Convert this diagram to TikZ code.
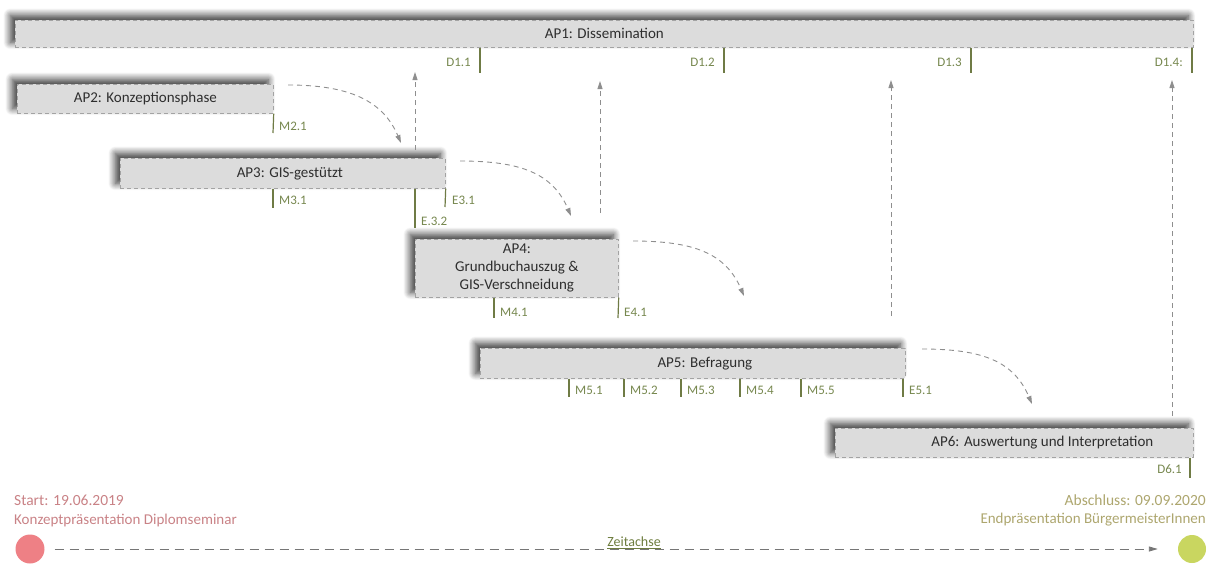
\documentclass[tikz,border=0pt]{standalone}
\usepackage{fontspec}
\setmainfont{Carlito}
\usetikzlibrary{shadows.blur,arrows.meta,calc}
\definecolor{boxfill}{HTML}{DCDCDC}
\definecolor{boxline}{HTML}{A3A3A3}
\definecolor{boxtext}{HTML}{2E2E2E}
\definecolor{tickcol}{HTML}{6F7B45}
\definecolor{ticktext}{HTML}{76874E}
\definecolor{flowcol}{HTML}{8E8E8E}
\definecolor{startcol}{HTML}{C98286}
\definecolor{endcol}{HTML}{ADA66E}
\definecolor{startdot}{HTML}{EE8085}
\definecolor{enddot}{HTML}{C9D660}
\definecolor{axiscol}{HTML}{767676}
\definecolor{axistext}{HTML}{6E7D3F}
\begin{document}
\begin{tikzpicture}[x=1pt,y=-1pt,
  apbox/.style={rectangle, anchor=north west, inner sep=0pt, draw=boxline,
    dash pattern=on 4pt off 3pt, line width=0.7pt, fill=boxfill, text=boxtext,
    align=center, font=\fontsize{15}{18}\selectfont,
    blur shadow={shadow xshift=-5pt, shadow yshift=5pt,
      shadow blur radius=7pt, shadow blur steps=12, shadow opacity=80}},
  msline/.style={draw=tickcol, line width=1.2pt},
  mslabel/.style={text=ticktext, font=\fontsize{13}{15}\selectfont, inner sep=0pt},
  flow/.style={draw=flowcol, line width=0.9pt, dash pattern=on 5pt off 4pt,
    -{Triangle[length=8pt,width=5pt]}},
  datetext/.style={inner sep=0pt, font=\fontsize{15.5}{18}\selectfont},
  subtext/.style={inner sep=0pt, font=\fontsize{15}{17}\selectfont}
]
\useasboundingbox (0,0) rectangle (1214,570);

% work packages
\node[apbox, minimum width=1178pt, minimum height=27pt] (ap1) at (15,20) {AP1: Dissemination};
\node[apbox, minimum width=256pt, minimum height=29pt] (ap2) at (17,84) {AP2: Konzeptionsphase};
\node[apbox, minimum width=325pt, minimum height=30pt] (ap3) at (120,158) {\hspace*{14pt}AP3: GIS-gestützt};
\node[apbox, minimum width=203pt, minimum height=58pt] (ap4) at (415,239) {AP4:\\Grundbuchauszug \&\\GIS-Verschneidung};
\node[apbox, minimum width=425pt, minimum height=30pt] (ap5) at (480,348) {\hspace*{24pt}AP5: Befragung};
\node[apbox, minimum width=358pt, minimum height=29pt] (ap6) at (835,428) {\hspace*{56pt}AP6: Auswertung und Interpretation};

% deliverables of AP1
\foreach \x/\t/\n in {480/D1.1/d11, 724/D1.2/d12, 971/D1.3/d13, 1192/D1.4:/d14}{
  \coordinate (\n) at (\x,73);
  \draw[msline] (ap1.south -| \n) -- (\n);
  \node[mslabel, anchor=east] (\n l) at (\x-9,62) {\t};
}

% milestones AP2, AP3, AP4
\coordinate (m21) at (273,133);
\draw[msline] (ap2.south east) -- (m21);
\node[mslabel, anchor=west] (m21l) at (279,126) {M2.1};

\coordinate (m31) at (273,208);
\draw[msline] (ap3.south -| m31) -- (m31);
\node[mslabel, anchor=west] (m31l) at (279,200) {M3.1};

\coordinate (e31) at (445,207);
\draw[msline] (ap3.south east) -- (e31);
\node[mslabel, anchor=west] (e31l) at (452,200) {E3.1};

\coordinate (e32) at (415,228);
\draw[msline] (ap3.south -| e32) -- (e32);
\node[mslabel, anchor=west] (e32l) at (421,221) {E.3.2};

\coordinate (m41) at (494,318);
\draw[msline] (ap4.south -| m41) -- (m41);
\node[mslabel, anchor=west] (m41l) at (500,312) {M4.1};

\coordinate (e41) at (618,318);
\draw[msline] (ap4.south east) -- (e41);
\node[mslabel, anchor=west] (e41l) at (624,312) {E4.1};

% milestones AP5
\foreach \x/\t/\n in {569/M5.1/m51, 624/M5.2/m52, 681/M5.3/m53, 740/M5.4/m54, 801/M5.5/m55, 903/E5.1/e51}{
  \coordinate (\n) at (\x,397);
  \draw[msline] (ap5.south -| \n) -- (\n);
  \node[mslabel, anchor=west] (\n l) at (\x+6,390) {\t};
}

% deliverable AP6
\coordinate (d61) at (1190,478);
\draw[msline] (ap6.south -| d61) -- (d61);
\node[mslabel, anchor=east] (d61l) at (1182,469) {D6.1};

% hand-over arrows between work packages
\coordinate (c1s) at (288,85);  \coordinate (c1e) at (401,143);
\coordinate (c2s) at (460,161); \coordinate (c2e) at (571,216);
\coordinate (c3s) at (633,241); \coordinate (c3e) at (744,296);
\coordinate (c4s) at (922,349); \coordinate (c4e) at (1032,404);
\foreach \n in {1,2,3,4}{
  \draw[flow] (c\n s) .. controls +(62,0) and +(-18,-42) .. (c\n e);
}

% feedback arrows into dissemination
\coordinate (u1s) at (415,150);  \coordinate (u1e) at (415,72);
\coordinate (u2s) at (600,213);  \coordinate (u2e) at (600,81);
\coordinate (u3s) at (891,316);  \coordinate (u3e) at (891,80);
\coordinate (u4s) at (1172,416); \coordinate (u4e) at (1172,80);
\foreach \n in {1,2,3,4}{
  \draw[flow] (u\n s) -- (u\n e);
}

% time axis
\node[datetext, text=startcol, anchor=west] (starttxt) at (14,500) {Start: 19.06.2019};
\node[subtext, text=startcol, anchor=west] (startsub) at (14,520) {Konzeptpräsentation Diplomseminar};
\node[circle, fill=startdot, minimum size=29pt, inner sep=0pt] (startdot) at (30,549) {};

\node[datetext, text=endcol, anchor=east] (endtxt) at (1206,500) {Abschluss: 09.09.2020};
\node[subtext, text=endcol, anchor=east] (endsub) at (1206,520) {Endpräsentation BürgermeisterInnen};
\node[circle, fill=enddot, minimum size=28pt, inner sep=0pt] (enddot) at (1192,549) {};

\draw[draw=axiscol, line width=0.9pt, dash pattern=on 9pt off 6pt,
  -{Triangle[length=9pt,width=5pt]}] ($(startdot.east)+(10,0)$) -- ($(enddot.west)+(-20,0)$);
\node[inner sep=0pt, anchor=base, text=axistext, font=\fontsize{14}{16}\selectfont] (axlbl) at (634,546.5) {\underline{Zeitachse}};
\end{tikzpicture}
\end{document}
